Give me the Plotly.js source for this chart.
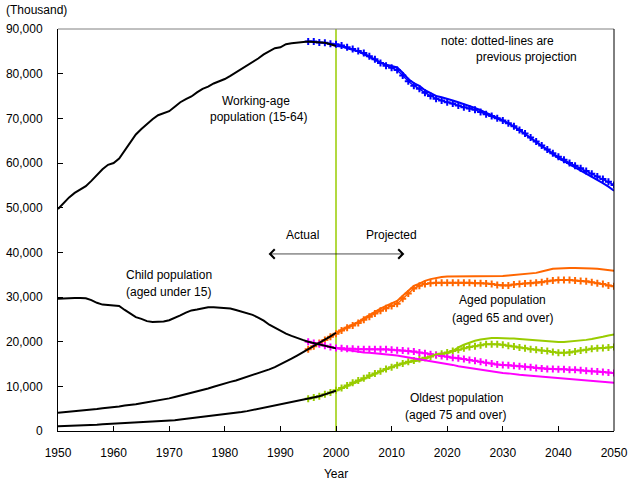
<!DOCTYPE html>
<html>
<head>
<meta charset="utf-8">
<script src="https://cdn.plot.ly/plotly-3.0.1.min.js"></script>
<style>html,body{margin:0;padding:0;background:#fff;}#chart{width:631px;height:484px;}</style>
</head>
<body>
<div id="chart"></div>
<script>
// ---- Data (thousand persons) ----
var yearStartActual = 1950, yearEndActual = 2000;
var yearStartProj = 2000, yearEndProj = 2050;
var yearStartPrev = 1995, yearEndPrev = 2050;

// Actual (black)
var workActual = [49700,51000,52300,53300,54000,54800,56000,57300,58600,59600,
  60000,61000,62800,64800,66400,67600,68800,69800,70700,71200,
  71600,72600,73600,74300,74900,75800,76600,77100,77800,78300,
  78800,79500,80300,81000,81800,82500,83400,84300,85100,85700,
  85900,86600,86800,86900,87000,87200,87100,87000,86900,86600,
  86200];
var childActual = [29600,29700,29800,29800,29800,29700,29300,28700,28300,28200,
  28200,28000,27100,26200,25500,25100,24600,24400,24400,24500,
  24800,25300,25900,26500,27000,27200,27500,27700,27700,27600,
  27500,27400,27100,26700,26300,26000,25400,24700,23800,23100,
  22500,21800,21300,20800,20400,20000,19700,19400,19100,18700,
  18500];
var agedActual = [4100,4200,4400,4500,4600,4700,4800,4900,5100,5200,
  5400,5500,5700,5800,6000,6200,6400,6600,6900,7100,
  7300,7600,7900,8200,8500,8900,9200,9500,9900,10300,
  10600,11000,11300,11700,12100,12500,12900,13300,13800,14300,
  14900,15600,16200,16900,17600,18300,19000,19700,20500,21200,
  22000];
var oldestActual = [1070,1100,1150,1200,1250,1300,1350,1420,1500,1570,
  1640,1700,1770,1840,1920,2000,2050,2100,2150,2200,
  2240,2400,2550,2700,2850,2980,3100,3250,3400,3530,
  3660,3850,4050,4250,4450,4700,4950,5200,5450,5700,
  5970,6200,6450,6700,6930,7170,7500,7800,8200,8600,
  9000];

// Current projection (solid colour), 2000-2050
var workProj = [86200,86100,85700,85400,85000,84400,83700,83100,82500,82000,
  81700,81400,80200,78800,77900,77300,76300,75600,75000,74700,
  74400,74000,73600,73200,72700,72300,71800,71200,70600,70100,
  69600,68900,68200,67400,66500,65600,64600,63700,62800,61900,
  61100,60400,59700,59000,58400,57700,57000,56300,55500,54700,
  53800];
var childProj = [18500,18300,18100,17900,17700,17600,17500,17400,17300,17200,
  17100,16900,16700,16500,16300,16100,15900,15700,15500,15200,
  15000,14800,14500,14300,14100,13900,13700,13500,13400,13200,
  13000,12900,12700,12600,12500,12400,12300,12200,12100,12000,
  11900,11800,11700,11600,11500,11400,11300,11200,11100,11000,
  10800];
var agedProj = [22000,22700,23300,23800,24400,25200,26000,26800,27400,28000,
  28600,29100,30300,31500,32500,33000,33600,34000,34300,34500,
  34600,34600,34600,34600,34600,34600,34600,34600,34600,34600,
  34700,34800,34900,35100,35200,35300,35400,35700,36000,36300,
  36400,36500,36500,36500,36500,36500,36400,36300,36200,36100,
  35900];
var oldestProj = [9000,9500,10100,10600,11100,11600,12200,12800,13400,13900,
  14300,14800,15100,15400,15600,15800,16000,16700,17200,17300,
  17400,17900,18700,19300,19800,20200,20500,20700,20800,20800,
  20800,20800,20700,20600,20500,20300,20200,20100,20000,20000,
  19900,19900,20000,20100,20200,20400,20600,20800,21100,21400,
  21600];

// Previous projection (dotted), 1995-2050
var workPrev = [87200,87200,87000,86900,86700,
  86600,86300,85900,85500,85100,84600,83900,83200,82400,81800,
  81300,80800,79600,78300,77300,76600,75700,75000,74400,74000,
  73600,73300,72900,72500,72200,71900,71400,70900,70500,70000,
  69500,68900,68200,67400,66600,65700,64800,63900,63000,62200,
  61400,60700,60000,59400,58800,58200,57600,57000,56400,55800,
  55100];
var childPrev = [20000,19700,19400,19100,18800,
  18600,18500,18400,18400,18300,18300,18300,18300,18300,18300,
  18200,18100,18000,17900,17800,17600,17400,17200,17000,16800,
  16600,16400,16300,16100,15900,15700,15500,15300,15100,14900,
  14800,14700,14600,14500,14400,14300,14100,14000,13900,13900,
  13800,13800,13700,13700,13600,13500,13400,13300,13200,13100,
  13000];
var agedPrev = [18300,19000,19700,20400,21100,
  21800,22500,23100,23600,24200,24900,25600,26300,26900,27500,
  28000,28500,29600,30800,31900,32500,32900,33100,33200,33200,
  33200,33200,33200,33200,33200,33100,33100,33000,32900,32700,
  32600,32600,32800,32900,33000,33100,33200,33300,33500,33700,
  33800,33800,33800,33700,33600,33500,33300,33100,32900,32600,
  32400];
var oldestPrev = [7200,7500,7800,8200,8600,
  9100,9600,10200,10800,11300,11800,12400,12900,13400,13900,
  14300,14700,15100,15500,15800,16100,16400,16700,17000,17300,
  17600,17900,18200,18500,18800,19000,19200,19400,19400,19400,
  19300,19100,18900,18700,18500,18300,18200,18000,17900,17700,
  17500,17500,17600,17800,18000,18200,18400,18500,18600,18700,
  18800];

var xTickVals = [1950,1960,1970,1980,1990,2000,2010,2020,2030,2040,2050];
var xTickText = ['1950','1960','1970','1980','1990','2000','2010','2020','2030','2040','2050'];
var yTickVals = [0,10000,20000,30000,40000,50000,60000,70000,80000,90000];
var yTickText = ['0','10,000','20,000','30,000','40,000','50,000','60,000','70,000','80,000','90,000'];

function years(a, b) { var r = []; for (var y = a; y <= b; y++) r.push(y); return r; }
var yrsActual = years(yearStartActual, yearEndActual);
var yrsProj = years(yearStartProj, yearEndProj);
var yrsPrev = years(yearStartPrev, yearEndPrev);

var BLUE = '#0000FF', ORANGE = '#FF6600', GREEN = '#99CC00', PINK = '#FF00FF';

function prevTrace(y, c) {
  return {x: yrsPrev, y: y, mode: 'lines+markers', type: 'scatter',
    line: {color: c, width: 1.5},
    marker: {symbol: 'cross-thin', size: 5, color: c, line: {color: c, width: 2}},
    hoverinfo: 'skip'};
}
function projTrace(y, c) {
  return {x: yrsProj, y: y, mode: 'lines', type: 'scatter',
    line: {color: c, width: 2}, hoverinfo: 'skip'};
}
function actTrace(y) {
  return {x: yrsActual, y: y, mode: 'lines', type: 'scatter',
    line: {color: '#000000', width: 2}, hoverinfo: 'skip'};
}

var data = [
  prevTrace(workPrev, BLUE), prevTrace(agedPrev, ORANGE),
  prevTrace(oldestPrev, GREEN), prevTrace(childPrev, PINK),
  projTrace(workProj, BLUE), projTrace(agedProj, ORANGE),
  projTrace(oldestProj, GREEN), projTrace(childProj, PINK),
  actTrace(workActual), actTrace(childActual), actTrace(agedActual), actTrace(oldestActual)
];

var F = {family: 'Arial, "Liberation Sans", sans-serif', size: 12, color: '#000'};
function note(text, x, y) {
  return {text: text, x: x, y: y, xref: 'x', yref: 'y', showarrow: false,
    xanchor: 'center', yanchor: 'middle', font: F};
}

var annotations = [
  {text: '(Thousand)', xref: 'paper', yref: 'paper', x: -0.097, y: 1.047,
   xanchor: 'left', yanchor: 'middle', showarrow: false, font: F},
  note('Working-age', 1985.6, 73900),
  note('population (15-64)', 1986.1, 70200),
  note('note: dotted-lines are', 2029.0, 87400),
  note('previous projection', 2034.2, 83700),
  note('Actual', 1993.9, 43960),
  note('Projected', 2010.05, 43960),
  note('Child population', 1969.9, 35000),
  note('(aged under 15)', 1969.9, 31150),
  note('Aged population', 2029.9, 29420),
  note('(aged 65 and over)', 2029.9, 25390),
  note('Oldest population', 2021.6, 7450),
  note('(aged 75 and over)', 2021.5, 3690),
  {x: 2012.3, y: 39640, ax: 1987.6, ay: 39640, xref: 'x', yref: 'y', axref: 'x', ayref: 'y',
   text: '', showarrow: true, arrowside: 'end+start', arrowhead: 4, arrowsize: 2.6,
   arrowwidth: 0.7, arrowcolor: '#000'}
];

var layout = {
  width: 631, height: 484,
  margin: {l: 58, r: 17, t: 29, b: 53},
  paper_bgcolor: '#fff', plot_bgcolor: '#fff',
  showlegend: false,
  font: F,
  xaxis: {
    range: [1950, 2050], tickvals: xTickVals, ticktext: xTickText,
    ticks: 'inside', ticklen: 5, tickcolor: '#000', tickwidth: 1,
    showline: true, linecolor: '#000', linewidth: 1,
    showgrid: false, zeroline: false, ticklabelstandoff: 11,
    tickfont: F,
    title: {text: 'Year', font: F, standoff: 10}
  },
  yaxis: {
    range: [0, 90000], tickvals: yTickVals, ticktext: yTickText,
    ticks: 'inside', ticklen: 5, tickcolor: '#000', tickwidth: 1,
    showline: true, linecolor: '#000', linewidth: 1,
    showgrid: false, zeroline: false, ticklabelstandoff: 12,
    tickfont: F
  },
  shapes: [
    {type: 'line', xref: 'x', yref: 'paper', x0: 2000, x1: 2000, y0: 0, y1: 1,
     line: {color: GREEN, width: 1.5}, layer: 'below'},
    {type: 'line', xref: 'paper', yref: 'paper', x0: 0, x1: 1, y0: 1, y1: 1,
     line: {color: '#808080', width: 1}},
    {type: 'line', xref: 'paper', yref: 'paper', x0: 1, x1: 1, y0: 0, y1: 1,
     line: {color: '#000', width: 1}}
  ],
  annotations: annotations
};

Plotly.newPlot('chart', data, layout, {displayModeBar: false, staticPlot: true});
</script>
</body>
</html>
